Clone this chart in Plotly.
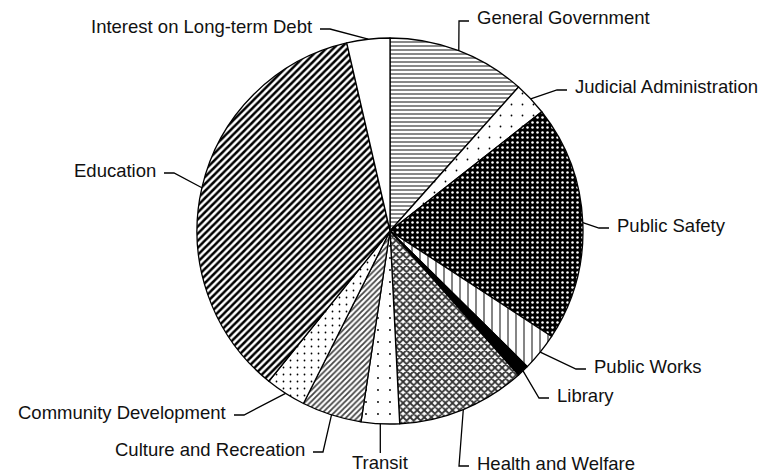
import math
import plotly.graph_objects as go

# ---- data ----
categories = [
    "General Government", "Judicial Administration", "Public Safety",
    "Public Works", "Library", "Health and Welfare", "Transit",
    "Culture and Recreation", "Community Development", "Education",
    "Interest on Long-term Debt",
]
shares = [11.6, 2.8, 19.8, 3.2, 1.0, 10.8, 3.2, 5.0, 3.4, 35.6, 3.6]

# ---- styles ----
pat_shape = ["-", ".", ".", "|", "", "x", ".", "/", ".", "/", ""]
pat_fg = ["#555555", "black", "white", "black", "black", "#333333", "black", "#444444", "black", "black", "black"]
pat_bg = ["white", "white", "black", "white", "black", "white", "white", "white", "white", "white", "white"]
pat_size = [4, 11, 5, 8, 6, 5, 12, 4, 7, 5, 6]
pat_sol = [0.35, 0.02, 0.2, 0.12, 0.3, 0.6, 0.02, 0.45, 0.05, 0.5, 0.3]
slice_colors = ["white", "white", "black", "white", "black", "white", "white", "white", "white", "white", "white"]

# ---- layout (pixels) ----
W, H = 765, 474
CX, CY, R = 390, 231, 193
# label anchor positions: (x, y, xanchor)
label_pos = [
    (475, 18, "left"), (573, 87, "left"), (615, 225, "left"),
    (592, 366, "left"), (555, 395, "left"), (475, 463, "left"),
    (380, 462, "center"), (307, 449, "right"), (228, 412, "right"),
    (158, 170, "right"), (314, 26, "right"),
]
GAP, SEG = 6, 10

def px(x):
    return x / W

def py(y):
    return 1 - y / H

fig = go.Figure(go.Pie(
    labels=categories,
    values=shares,
    sort=False,
    direction="clockwise",
    rotation=0,
    textinfo="none",
    hoverinfo="label+percent",
    showlegend=False,
    marker=dict(
        colors=slice_colors,
        line=dict(color="black", width=1.3),
        pattern=dict(shape=pat_shape, fgcolor=pat_fg, bgcolor=pat_bg,
                     size=pat_size, solidity=pat_sol, fillmode="replace"),
    ),
    domain=dict(x=[px(CX - R), px(CX + R)], y=[py(CY + R), py(CY - R)]),
))

total = sum(shares)
cum = 0
shapes = []
annotations = []
for name, v, (lx, ly, anc) in zip(categories, shares, label_pos):
    mid = (cum + v / 2) / total * 2 * math.pi
    cum += v
    sx = CX + R * math.sin(mid)
    sy = CY - R * math.cos(mid)
    if anc == "center":
        pts = [(sx, sy), (sx, ly - 9)]
    else:
        d = 1 if anc == "left" else -1
        ex = lx - d * GAP
        ey = ly + 3
        bx = ex - d * SEG
        pts = [(sx, sy), (bx, ey), (ex, ey)]
    path = "M " + " L ".join(f"{px(a):.5f},{py(b):.5f}" for a, b in pts)
    shapes.append(dict(type="path", path=path, xref="paper", yref="paper",
                       line=dict(color="black", width=1.3)))
    annotations.append(dict(
        x=px(lx), y=py(ly), xref="paper", yref="paper", text=name,
        showarrow=False, xanchor=anc, yanchor="middle",
        font=dict(family="Liberation Sans, Arial, sans-serif", size=18.5, color="#111111"),
    ))

fig.update_layout(
    width=W, height=H, autosize=False,
    margin=dict(l=0, r=0, t=0, b=0),
    paper_bgcolor="white", plot_bgcolor="white",
    shapes=shapes, annotations=annotations,
)
fig.write_html("out.html", config={"displayModeBar": False},
               post_script="document.body.style.margin='0';")
